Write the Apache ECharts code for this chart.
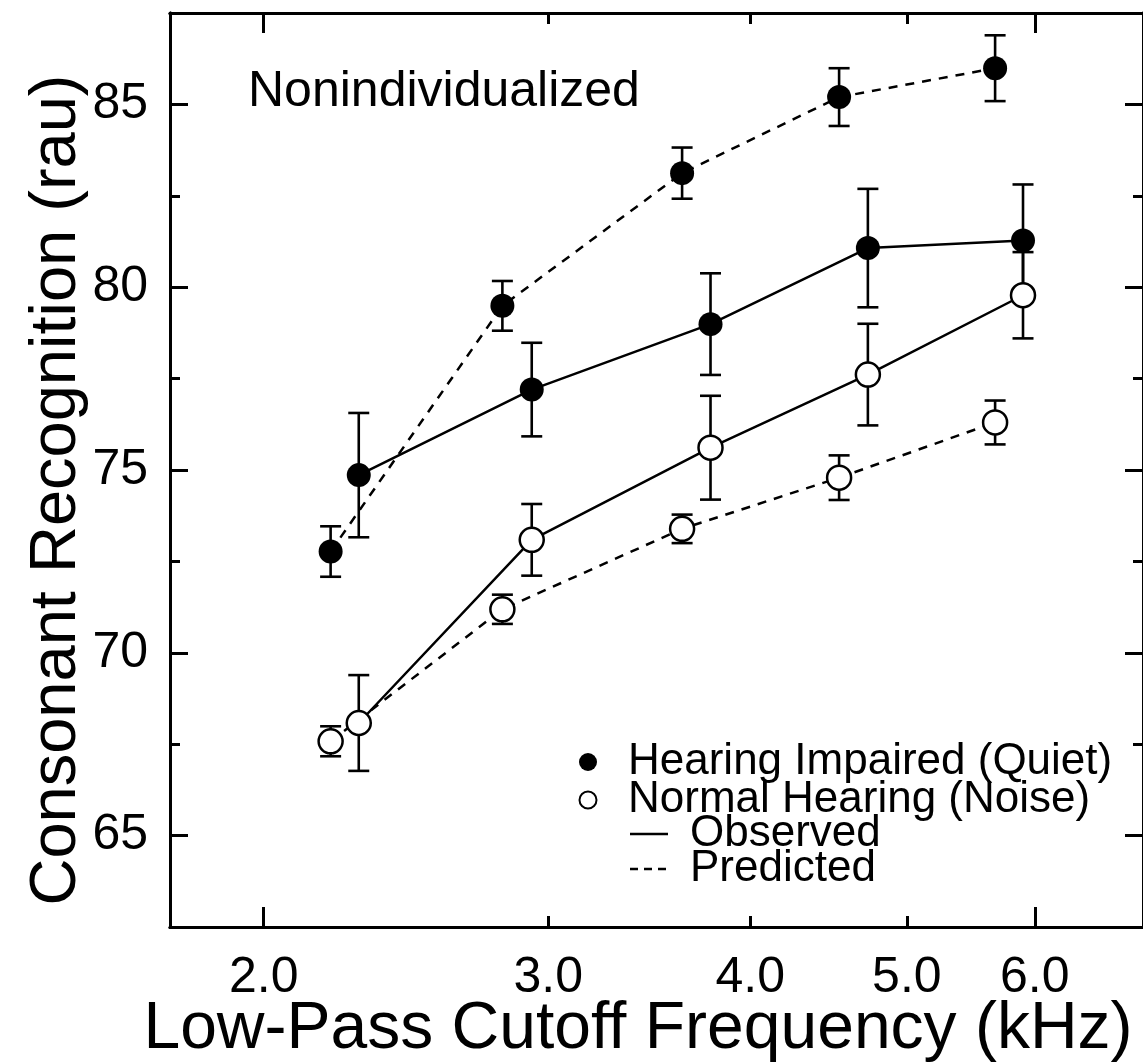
<!DOCTYPE html>
<html>
<head>
<meta charset="utf-8">
<script src="https://cdn.jsdelivr.net/npm/echarts@6/dist/echarts.min.js"></script>
<style>
html,body{margin:0;padding:0;background:#fff;}
#c{width:1143px;height:1062px;}
</style>
</head>
<body>
<div id="c"></div>
<script>
// ---- data ----
const predFreq = [2.2, 2.81, 3.63, 4.54, 5.67];   // kHz, predicted points
const obsFreq  = [2.29, 2.93, 3.78, 4.73, 5.90];  // kHz, observed points
const hiObs  = [74.86, 77.20, 78.99, 81.07, 81.28];
const hiObsErr = [1.70, 1.28, 1.39, 1.62, 1.53];
const hiPred = [72.77, 79.49, 83.12, 85.20, 85.99];
const hiPredErr = [0.69, 0.68, 0.70, 0.79, 0.90];
const nhObs  = [68.08, 73.09, 75.61, 77.61, 79.78];
const nhObsErr = [1.31, 0.98, 1.42, 1.39, 1.18];
const nhPred = [67.58, 71.19, 73.39, 74.79, 76.30];
const nhPredErr = [0.41, 0.40, 0.39, 0.61, 0.60];
const xTickLabels = [2, 3, 4, 5, 6];
const xMajorTicks = [2, 6];
const xMinorTicks = [3, 4, 5];
const yMajorTicks = [65, 70, 75, 80, 85];
const yMinorTicks = [67.5, 72.5, 77.5, 82.5];

const FONT = 'Liberation Sans';
const chart = echarts.init(document.getElementById('c'), null, {renderer: 'canvas'});

function pts(xs, ys) { return xs.map((x, i) => [x, ys[i]]); }
function errs(xs, ys, es) { return xs.map((x, i) => [x, ys[i] - es[i], ys[i] + es[i]]); }

function renderErr(params, api) {
  const x = api.value(0), lo = api.value(1), hi = api.value(2);
  const a = api.coord([x, lo]), b = api.coord([x, hi]);
  const w = 10.5;
  const st = {stroke: '#000', lineWidth: 2.6};
  return {type: 'group', children: [
    {type: 'line', shape: {x1: a[0], y1: a[1], x2: b[0], y2: b[1]}, style: st},
    {type: 'line', shape: {x1: a[0] - w, y1: a[1], x2: a[0] + w, y2: a[1]}, style: st},
    {type: 'line', shape: {x1: b[0] - w, y1: b[1], x2: b[0] + w, y2: b[1]}, style: st}
  ]};
}

const axisLineStyle = {show: true, onZero: false, lineStyle: {color: '#000', width: 3}};
function xAx(pos, ticks, len, labels) {
  return {
    type: 'log', logBase: 10, min: 1.75, max: 7.0, position: pos,
    axisLine: axisLineStyle,
    axisTick: {show: true, inside: true, length: len, customValues: ticks, lineStyle: {color: '#000', width: 3}},
    axisLabel: labels ? {show: true, customValues: xTickLabels, formatter: v => Number(v).toFixed(1),
      fontSize: 50, fontFamily: FONT, color: '#000', margin: 26} : {show: false},
    splitLine: {show: false}, minorTick: {show: false}
  };
}
function yAx(pos, ticks, len, labels) {
  return {
    type: 'value', min: 62.5, max: 87.5, interval: 2.5, position: pos,
    axisLine: axisLineStyle,
    axisTick: {show: true, inside: true, length: len, customValues: ticks, lineStyle: {color: '#000', width: 3}},
    axisLabel: labels ? {show: true, customValues: yMajorTicks, fontSize: 50, fontFamily: FONT, color: '#000', margin: 22} : {show: false},
    splitLine: {show: false}
  };
}

const lineBase = {type: 'line', xAxisIndex: 0, yAxisIndex: 0, symbol: 'circle', symbolSize: 24, z: 3, silent: true};

const option = {
  animation: false,
  backgroundColor: '#fff',
  grid: {left: 170, top: 13, width: 978, height: 914, containLabel: false},
  xAxis: [
    xAx('bottom', xMajorTicks, 20, true),
    xAx('bottom', xMinorTicks, 11, false),
    xAx('top', xMajorTicks, 20, false),
    xAx('top', xMinorTicks, 11, false)
  ],
  yAxis: [
    yAx('left', yMajorTicks, 18, true),
    yAx('left', yMinorTicks, 10, false),
    yAx('right', yMajorTicks, 18, false),
    yAx('right', yMinorTicks, 10, false)
  ],
  series: [
    {type: 'custom', renderItem: renderErr, data: errs(predFreq, hiPred, hiPredErr), encode: {x: 0, y: [1, 2]}, z: 1, silent: true},
    {type: 'custom', renderItem: renderErr, data: errs(obsFreq, hiObs, hiObsErr), encode: {x: 0, y: [1, 2]}, z: 1, silent: true},
    {type: 'custom', renderItem: renderErr, data: errs(obsFreq, nhObs, nhObsErr), encode: {x: 0, y: [1, 2]}, z: 1, silent: true},
    {type: 'custom', renderItem: renderErr, data: errs(predFreq, nhPred, nhPredErr), encode: {x: 0, y: [1, 2]}, z: 1, silent: true},
    Object.assign({}, lineBase, {name: 'HI Predicted', data: pts(predFreq, hiPred),
      lineStyle: {color: '#000', width: 2.5, type: [9, 8]}, itemStyle: {color: '#000'}}),
    Object.assign({}, lineBase, {name: 'HI Observed', data: pts(obsFreq, hiObs),
      lineStyle: {color: '#000', width: 2.5}, itemStyle: {color: '#000'}}),
    Object.assign({}, lineBase, {name: 'NH Observed', data: pts(obsFreq, nhObs),
      lineStyle: {color: '#000', width: 2.5}, itemStyle: {color: '#fff', borderColor: '#000', borderWidth: 2.5}}),
    Object.assign({}, lineBase, {name: 'NH Predicted', data: pts(predFreq, nhPred),
      lineStyle: {color: '#000', width: 2.5, type: [9, 8]}, itemStyle: {color: '#fff', borderColor: '#000', borderWidth: 2.5}})
  ],
  graphic: [
    {type: 'text', left: 248, top: 67, style: {text: 'Nonindividualized', font: '50px "' + FONT + '"', fill: '#000'}},
    {type: 'text', x: 638, y: 1030, style: {text: 'Low-Pass Cutoff Frequency (kHz)', font: '66px "' + FONT + '"', fill: '#000', align: 'center', verticalAlign: 'middle'}},
    {type: 'text', x: 57, y: 490, rotation: Math.PI / 2, style: {text: 'Consonant Recognition (rau)', font: '65px "' + FONT + '"', fill: '#000', align: 'center', verticalAlign: 'middle'}},
    {type: 'circle', shape: {cx: 588, cy: 762, r: 9}, style: {fill: '#000'}},
    {type: 'text', x: 628, y: 762, style: {text: 'Hearing Impaired (Quiet)', font: '44px "' + FONT + '"', fill: '#000', verticalAlign: 'middle'}},
    {type: 'circle', shape: {cx: 588, cy: 800, r: 8.5}, style: {fill: '#fff', stroke: '#000', lineWidth: 2}},
    {type: 'text', x: 628, y: 800, style: {text: 'Normal Hearing (Noise)', font: '44px "' + FONT + '"', fill: '#000', verticalAlign: 'middle'}},
    {type: 'line', shape: {x1: 630, y1: 834, x2: 668, y2: 834}, style: {stroke: '#000', lineWidth: 2.5}},
    {type: 'text', x: 690, y: 834, style: {text: 'Observed', font: '44px "' + FONT + '"', fill: '#000', verticalAlign: 'middle'}},
    {type: 'line', shape: {x1: 630, y1: 869, x2: 668, y2: 869}, style: {stroke: '#000', lineWidth: 2.5, lineDash: [8, 6]}},
    {type: 'text', x: 690, y: 869, style: {text: 'Predicted', font: '44px "' + FONT + '"', fill: '#000', verticalAlign: 'middle'}}
  ]
};
chart.setOption(option);
</script>
</body>
</html>
